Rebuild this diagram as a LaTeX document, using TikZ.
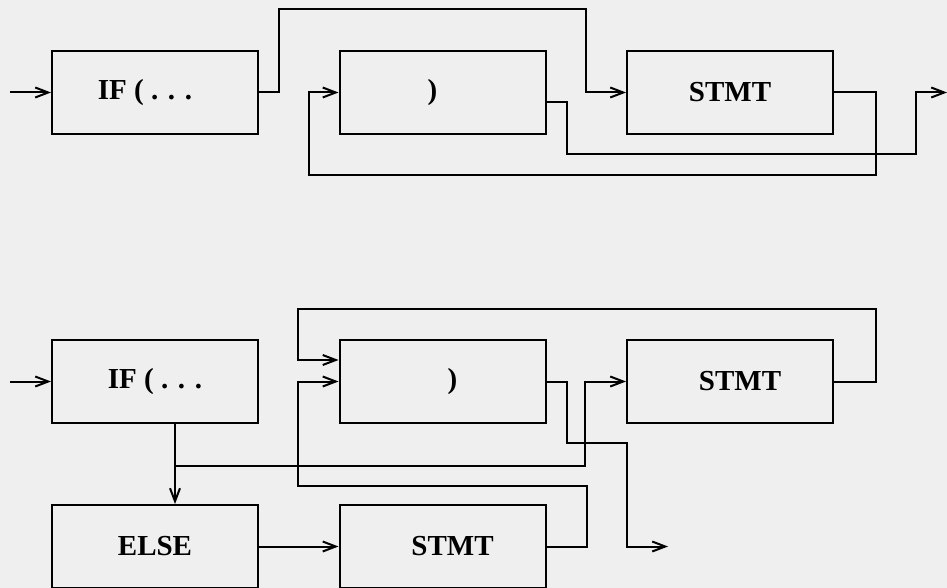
\documentclass[tikz,border=0pt]{standalone}
\usepackage{fontspec}
\setmainfont{Liberation Serif}
\usetikzlibrary{arrows.meta,positioning}
\definecolor{paper}{RGB}{239,239,239}

\begin{document}
\begin{tikzpicture}[
x=0.5pt, y=-0.5pt,
boxnode/.style={rectangle, draw=black, line width=1pt, minimum width=103pt, minimum height=41.5pt, inner sep=0pt, font=\bfseries\fontsize{14.5}{17}\selectfont},
line width=1pt, >={Straight Barb[length=6.5pt,width=5pt]},
node distance=143.75pt, on grid,
]
\fill[paper] (0,0) rectangle (947,588);
\useasboundingbox (0,0) rectangle (947,588);
%% upper loop
\node[boxnode] (1) at (155,92.5) {\raisebox{-2pt}{IF ( . . .}\hspace*{10pt}};
\node[boxnode] (2) [right=of 1] {)\hspace*{10pt}};
\node[boxnode] (3) [right=of 2] {STMT};
\coordinate (in1) at (10,92.5);
\coordinate (out1) at (947,92.5);
%% lower loop
\node[boxnode] (4) [below=144.5pt of 1] {IF ( . . .};
\node[boxnode] (5) [right=of 4] {\hspace*{10pt})};
\node[boxnode] (6) [right=of 5] {\hspace*{10pt}STMT};
\node[boxnode] (7) [below=82.5pt of 4] {ELSE};
\node[boxnode] (8) [right=of 7] {\hspace*{10pt}STMT};
\coordinate (in2) at (10,381.5);
\coordinate (out2) at (668,546.5);
%%%
%% Lines
\draw[->] (in1) -- (1.west);
\draw[->] (1.east) -- ++(10pt,0) -- ++(0,41.75pt) -| ([xshift=-20pt]3.west) -- (3.west);
\draw[->] ([yshift=-5pt]2.east) -- ++(10pt,0) -- ++(0,-26pt) -| ([xshift=-15.5pt]out1) -- (out1);
\draw[->] (3.east) -- ++(21pt,0) -- ++(0,-41.25pt) -| ([xshift=-15pt]2.west) -- (2.west);
%%
\draw[->] (in2) -- (4.west);
\draw[->] (6.east) -- ++(21pt,0) -- ++(0,36.25pt) -| ([xshift=-20.5pt,yshift=10.75pt]5.west) -- ([yshift=10.75pt]5.west);
\draw[->] ([xshift=10pt]4.south) -- ([xshift=10pt]7.north);
\draw[->] ([xshift=10pt]4.south) ++(0,-21pt) -| ([xshift=-20.5pt]6.west) -- (6.west);
\draw[->] (7.east) -- (8.west);
\draw[->] (8.east) -- ++(20pt,0) -- ++(0,30.5pt) -| ([xshift=-20.5pt]5.west) -- (5.west);
\draw[->] (5.east) -- ++(10pt,0) -- ++(0,-30.75pt) -| ([xshift=-20.5pt]out2) -- (out2);
\end{tikzpicture}
\end{document}
